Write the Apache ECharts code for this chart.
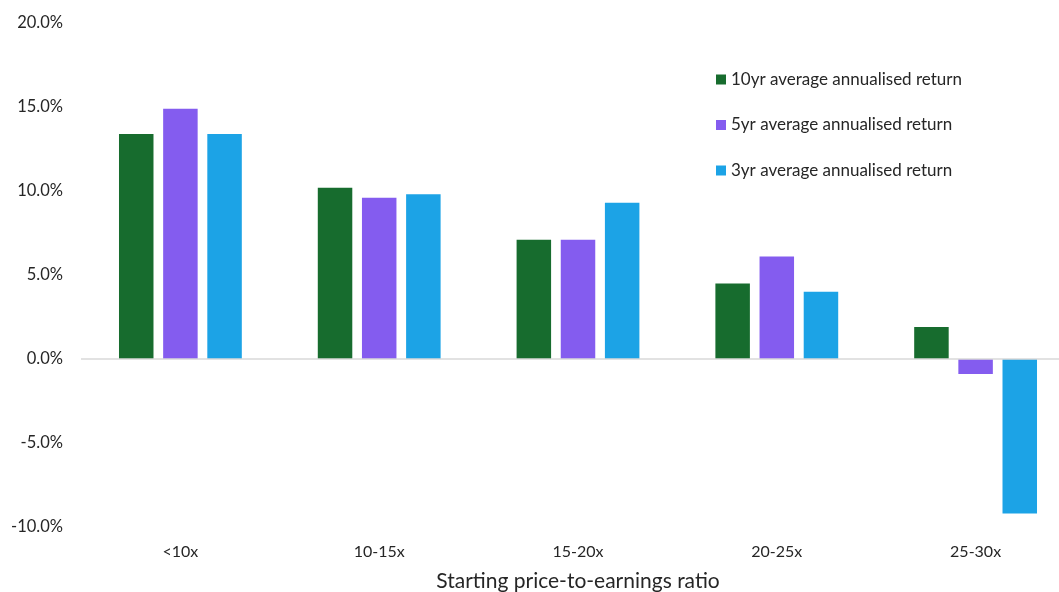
<!DOCTYPE html>
<html>
<head>
<meta charset="utf-8">
<script src="https://cdn.jsdelivr.net/npm/echarts@6/dist/echarts.min.js"></script>
<style>
  html, body { margin: 0; padding: 0; background: #fff; }
  #chart { width: 1059px; height: 592px; }
</style>
</head>
<body>
<div id="chart"></div>
<script>
// categories and values (percent)
var categories = ['<10x', '10-15x', '15-20x', '20-25x', '25-30x'];
var seriesNames = ['10yr average annualised return', '5yr average annualised return', '3yr average annualised return'];
var tenYear = [13.4, 10.2, 7.1, 4.5, 1.9];
var fiveYear = [14.9, 9.6, 7.1, 6.1, -0.9];
var threeYear = [13.4, 9.8, 9.3, 4.0, -9.2];
var colors = ['#176c2e', '#845cef', '#1ca3e6'];

var font = 'Lato, "Open Sans", sans-serif';
var chart = echarts.init(document.getElementById('chart'));

function bar(name, data, color, withZero) {
  var s = {
    name: name,
    type: 'bar',
    data: data,
    barWidth: 34.5,
    barGap: '28%',
    itemStyle: { color: color },
    emphasis: { disabled: true }
  };
  if (withZero) {
    // zero line across the plot
    s.markLine = {
      silent: true,
      symbol: 'none',
      label: { show: false },
      lineStyle: { color: '#d9d9d9', width: 1.5, type: 'solid' },
      data: [{ yAxis: 0 }]
    };
  }
  return s;
}

chart.setOption({
  animation: false,
  textStyle: { fontFamily: font },
  grid: { left: 81, right: -16, top: 23, bottom: 65, outerBoundsMode: 'none' },
  legend: {
    orient: 'vertical',
    left: 711,
    top: 66,
    itemWidth: 10,
    itemHeight: 10,
    itemGap: 28.5,
    icon: 'rect',
    textStyle: { fontSize: 17, color: '#262626', fontFamily: font },
    data: seriesNames
  },
  xAxis: {
    type: 'category',
    data: categories,
    axisLine: { show: false, onZero: false },
    axisTick: { show: false },
    axisLabel: { fontSize: 16, color: '#262626', margin: 17 },
    name: 'Starting price-to-earnings ratio',
    nameLocation: 'middle',
    nameGap: 44,
    nameTextStyle: { fontSize: 21, color: '#262626' }
  },
  yAxis: {
    type: 'value',
    min: -10,
    max: 20,
    interval: 5,
    splitLine: { show: false },
    axisLine: { show: false },
    axisTick: { show: false },
    axisLabel: {
      fontSize: 16.5,
      color: '#262626',
      margin: 18,
      formatter: function (v) { return v.toFixed(1) + '%'; }
    }
  },
  series: [
    bar(seriesNames[0], tenYear, colors[0], true),
    bar(seriesNames[1], fiveYear, colors[1], false),
    bar(seriesNames[2], threeYear, colors[2], false)
  ]
});
</script>
</body>
</html>
